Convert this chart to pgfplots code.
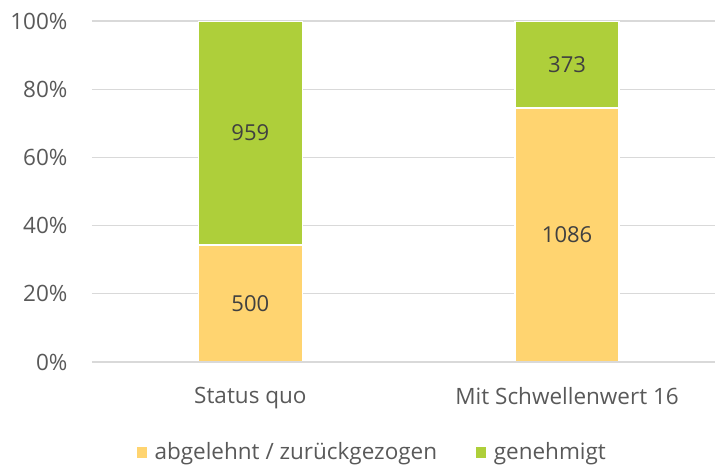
\documentclass[border=0pt]{standalone}
\usepackage{fontspec}
\setmainfont{Open Sans}
\usepackage{pgfplots}
\pgfplotsset{compat=1.18}
\definecolor{ablehn}{HTML}{FFD470}
\definecolor{genehm}{HTML}{AECF3A}
\definecolor{gridc}{HTML}{D9D9D9}
\definecolor{tickc}{HTML}{595959}
\definecolor{valc}{HTML}{404040}
\tikzset{valnode/.style={text=valc, font=\fontsize{22}{26}\selectfont}}

\begin{document}
\begin{tikzpicture}[x=1pt,y=1pt]
\path[use as bounding box] (0,0) rectangle (715,464);
\begin{axis}[
    at={(92pt,102pt)}, anchor=south west,
    scale only axis, width=623pt, height=341pt,
    ybar stacked, bar width=104pt,
    xmin=-0.5, xmax=1.467, ymin=0, ymax=100,
    xtick={0,1}, xticklabels={Status quo, Mit Schwellenwert 16},
    ytick={0,20,40,60,80,100},
    yticklabels={0\%,20\%,40\%,60\%,80\%,100\%},
    axis line style={draw=none},
    major tick length=0pt,
    ymajorgrids, grid style={gridc, line width=1.3pt},
    tick label style={font=\fontsize{22.5}{26}\selectfont, text=tickc},
    yticklabel style={xshift=-21pt},
    xticklabel style={yshift=-22pt},
    legend columns=2,
    legend style={draw=none, fill=none, at={(0.45,-0.264)}, anchor=center,
        font=\fontsize{22.5}{26}\selectfont, text=tickc,
        /tikz/every even column/.append style={column sep=37pt}},
    legend image code/.code={\fill[#1,draw=none] (0pt,-6pt) rectangle (10pt,5pt);
        \path (15pt,0pt);},
    after end axis/.code={
        \draw[gridc, line width=1.5pt] (rel axis cs:0,0) -- (rel axis cs:1,0);
        \node[valnode] at (axis cs:0,17.14) {500};
        \node[valnode] at (axis cs:0,67.14) {959};
        \node[valnode] at (axis cs:1,37.22) {1086};
        \node[valnode] at (axis cs:1,87.22) {373};
    },
]
\addplot[fill=ablehn, draw=white, line width=1.5pt] coordinates {(0,34.27) (1,74.43)};
\addlegendentry{abgelehnt / zurückgezogen}
\addplot[fill=genehm, draw=white, line width=1.5pt] coordinates {(0,65.73) (1,25.57)};
\addlegendentry{genehmigt}
\end{axis}
\end{tikzpicture}
\end{document}
